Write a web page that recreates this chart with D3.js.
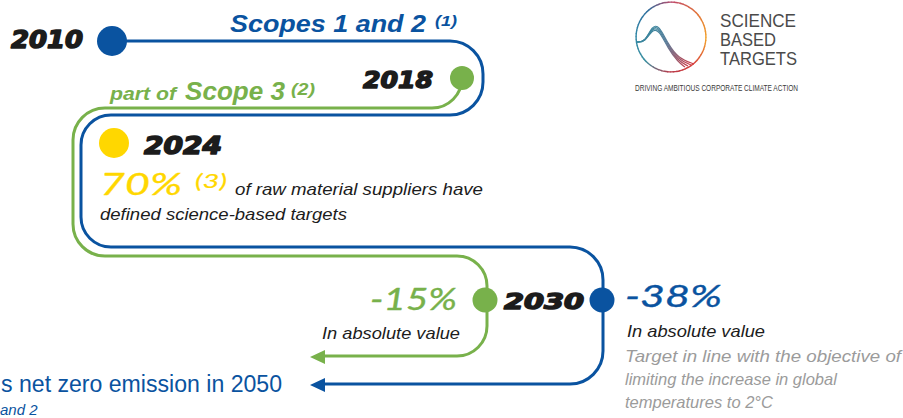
<!DOCTYPE html>
<html lang="en">
<head>
<meta charset="utf-8">
<title>Science based targets roadmap</title>
<script src="https://d3js.org/d3.v7.min.js"></script>
<style>
  body { margin: 0; background: #fff; }
  svg { display: block; }
</style>
</head>
<body>
<script>
// milestones and texts
var years = ["2010", "2018", "2024", "2030"];
var scopeLabels = ["Scopes 1 and 2", "part of", "Scope 3"];
var notes = ["(1)", "(2)", "(3)"];
var supplierShare = "70%";
var supplierText = ["of raw material suppliers have", "defined science-based targets"];
var reductions = ["-15%", "-38%"];
var absLabel = "In absolute value";
var climateText = ["Target in line with the objective of", "limiting the increase in global", "temperatures to 2\u00b0C"];
var netZero = ["s net zero emission in 2050", "and 2"];
var logoWords = ["SCIENCE", "BASED", "TARGETS"];
var logoTag = "DRIVING AMBITIOUS CORPORATE CLIMATE ACTION";

var w = 903, h = 418;
var blue = "#0a53a0", green = "#78b14b", yellow = "#ffd700", ink = "#1c1c1c", grey = "#9b9b9b";
var heavy = "'DejaVu Sans', sans-serif";
var arial = "'Liberation Sans', Arial, sans-serif";
var round = "Lato, 'Open Sans', sans-serif";

var svg = d3.select("body").append("svg")
    .attr("width", w)
    .attr("height", h);

// timeline paths
var bp = d3.path();
bp.moveTo(112, 41);
bp.arcTo(483, 41, 483, 115, 33);
bp.arcTo(483, 115, 81, 115, 33);
bp.arcTo(81, 115, 81, 247, 30);
bp.arcTo(81, 247, 603, 247, 30);
bp.arcTo(603, 247, 603, 384, 33);
bp.arcTo(603, 384, 320, 384, 33);
bp.lineTo(320, 384);

var gp = d3.path();
gp.moveTo(462, 78);
gp.arcTo(462, 108, 430, 108, 30);
gp.arcTo(73, 108, 73, 256, 32);
gp.arcTo(73, 256, 487, 256, 32);
gp.arcTo(487, 256, 487, 356, 30);
gp.arcTo(487, 356, 320, 356, 30);
gp.lineTo(320, 356);

svg.append("path").attr("d", gp.toString()).attr("fill", "none").attr("stroke", green).attr("stroke-width", 3);
svg.append("path").attr("d", bp.toString()).attr("fill", "none").attr("stroke", blue).attr("stroke-width", 3);

// arrow heads
[[357, green], [385, blue]].forEach(function(a) {
  svg.append("path")
    .attr("d", "M310," + a[0] + "L325," + (a[0] - 7) + "L325," + (a[0] + 7) + "Z")
    .attr("fill", a[1]);
});

// dots
var dots = [[112, 41, 15, blue], [462, 78, 12, green], [114, 143, 15, yellow], [485, 300, 12.5, green], [602, 300, 12.5, blue]];
svg.selectAll("circle.dot")
  .data(dots)
  .enter()
  .append("circle")
  .attr("class", "dot")
  .attr("cx", function(d) { return d[0]; })
  .attr("cy", function(d) { return d[1]; })
  .attr("r", function(d) { return d[2]; })
  .attr("fill", function(d) { return d[3]; });

function label(txt, x, y, size, color, opts) {
  opts = opts || {};
  var t = svg.append("text")
    .attr("x", x)
    .attr("y", y)
    .attr("font-family", opts.family || arial)
    .attr("font-size", size)
    .attr("font-style", opts.style || "italic")
    .attr("font-weight", opts.weight || "normal")
    .attr("fill", color)
    .text(txt);
  if (opts.anchor) t.attr("text-anchor", opts.anchor);
  if (opts.len) t.attr("textLength", opts.len).attr("lengthAdjust", "spacingAndGlyphs");
  if (opts.thick) t.attr("stroke", color).attr("stroke-width", opts.thick).attr("stroke-linejoin", "round");
  return t;
}

// years
label(years[0], 11, 48, 24, ink, { family: heavy, weight: "bold", len: 72, thick: 1.6 });
label(years[1], 363, 88, 23, ink, { family: heavy, weight: "bold", len: 70, thick: 1.6 });
label(years[2], 144, 154, 24, ink, { family: heavy, weight: "bold", len: 78, thick: 1.6 });
label(years[3], 504, 309, 22, ink, { family: heavy, weight: "bold", len: 80, thick: 1.6 });

// scopes
label(scopeLabels[0], 230, 32, 23, blue, { weight: "bold", len: 196 });
label(notes[0], 435, 26, 15, blue, { weight: "bold", len: 22 });
label(scopeLabels[1], 110, 100, 19, green, { weight: "bold", len: 66 });
label(scopeLabels[2], 185, 100, 26, green, { weight: "bold", len: 100 });
label(notes[1], 291, 95, 16, green, { weight: "bold", len: 24 });

// 2024 supplier target
label(supplierShare, 100, 195, 31, yellow, { family: round, len: 82, thick: 0.35 });
label(notes[2], 195, 188, 19, yellow, { family: round, len: 32, thick: 0.2 });
label(supplierText[0], 235, 195, 17, ink, { len: 248 });
label(supplierText[1], 100, 220, 17, ink, { len: 247 });

// 2030 targets
label(reductions[0], 370, 310, 31, green, { family: round, len: 87, thick: 0.35 });
label(absLabel, 322, 339, 17, ink, { len: 138 });
label(reductions[1], 625, 307, 31, blue, { family: round, len: 97, thick: 0.35 });
label(absLabel, 627, 337, 17, ink, { len: 138 });
climateText.forEach(function(s, i) {
  var t = label(s, 625, 362 + i * 23, 16.5, grey);
  if (i === 0) t.attr("textLength", 276).attr("lengthAdjust", "spacingAndGlyphs");
});

// 2050
label(netZero[0], 1, 392, 23, blue, { style: "normal", len: 281 });
label(netZero[1], 0, 415, 15, blue, {});

// logo
var logo = svg.append("g").attr("transform", "translate(671,37)");
var ringStops = [
  [0, "#c04a6a"], [0.12, "#e0703a"], [0.25, "#f2a22a"], [0.38, "#d8433c"],
  [0.5, "#b8394a"], [0.62, "#3d8fa0"], [0.75, "#2f86a6"], [0.88, "#2f6f9e"], [1, "#c04a6a"]
];
var ringColor = d3.scaleLinear()
  .domain(ringStops.map(function(s) { return s[0]; }))
  .range(ringStops.map(function(s) { return s[1]; }));
var segs = d3.range(72);
var ringArc = d3.arc().innerRadius(34.2).outerRadius(35.6);
logo.selectAll("path.ring")
  .data(segs)
  .enter()
  .append("path")
  .attr("class", "ring")
  .attr("d", function(i) {
    return ringArc({ startAngle: i / 72 * 2 * Math.PI, endAngle: (i + 1.2) / 72 * 2 * Math.PI });
  })
  .attr("fill", function(i) { return ringColor(i / 72); });

var defs = svg.append("defs");
var lg = defs.append("linearGradient")
  .attr("id", "bell")
  .attr("gradientUnits", "userSpaceOnUse")
  .attr("x1", 640).attr("y1", 30).attr("x2", 692).attr("y2", 66);
lg.append("stop").attr("offset", 0).attr("stop-color", "#2f8aa0");
lg.append("stop").attr("offset", 0.45).attr("stop-color", "#5a7d9a");
lg.append("stop").attr("offset", 1).attr("stop-color", "#d23a44");

var bell = d3.line().curve(d3.curveBasis);
d3.range(4).forEach(function(i) {
  var pts = [[637, 42], [645, 42], [652, 26 + i * 1.2], [659, 25 + i * 1.6], [668, 44 + i * 1.5], [678, 58 + i * 1.3], [694 - i * 3, 64 + i * 1]];
  svg.append("path")
    .attr("d", bell(pts))
    .attr("fill", "none")
    .attr("stroke", "url(#bell)")
    .attr("stroke-width", 1.2);
});

logoWords.forEach(function(s, i) {
  label(s, 720, 27 + i * 19, 18, "#4a4a4a", { style: "normal", len: [76, 56, 77][i] });
});
label(logoTag, 635, 91, 8.5, "#3a3a3a", { style: "normal", len: 163 });
</script>
</body>
</html>
